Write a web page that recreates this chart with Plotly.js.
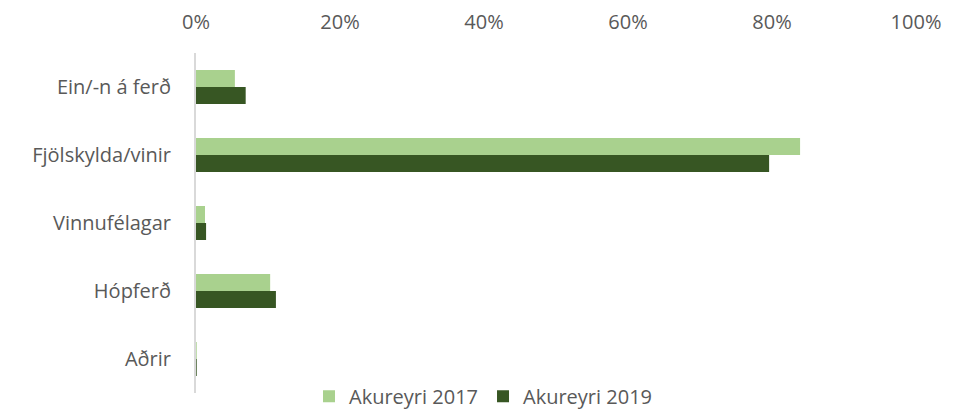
<!DOCTYPE html>
<html>
<head>
<meta charset="utf-8">
<script src="https://cdn.plot.ly/plotly-3.0.1.min.js"></script>
<style>html,body{margin:0;padding:0;background:#fff;}#chart{width:960px;height:411px;}</style>
</head>
<body>
<div id="chart"></div>
<script>
const categories = ["Ein/-n á ferð", "Fjölskylda/vinir", "Vinnufélagar", "Hópferð", "Aðrir"];
const series2017 = [5.4, 83.9, 1.25, 10.3, 0.1];
const series2019 = [6.9, 79.6, 1.4, 11.1, 0.1];
const seriesNames = ["Akureyri 2017", "Akureyri 2019"];
const tickVals = [0, 20, 40, 60, 80, 100];
const tickText = ["0%", "20%", "40%", "60%", "80%", "100%"];

const FONT = "'Open Sans', sans-serif";
const traces = [
  {type: "bar", orientation: "h", name: seriesNames[0], y: categories, x: series2017,
   marker: {color: "#a9d18e"}, hoverinfo: "x+name"},
  {type: "bar", orientation: "h", name: seriesNames[1], y: categories, x: series2019,
   marker: {color: "#375623"}, hoverinfo: "x+name"}
];
const layout = {
  width: 960, height: 411,
  margin: {l: 196, r: 44, t: 53, b: 18, autoexpand: false},
  paper_bgcolor: "#fff", plot_bgcolor: "#fff",
  font: {family: FONT, size: 20, color: "#595959"},
  barmode: "group", bargap: 0.5, bargroupgap: 0,
  xaxis: {side: "top", range: [0, 100], tickvals: tickVals, ticktext: tickText,
    showgrid: false, zeroline: false, showline: false, ticks: "", automargin: false,
    ticklabelstandoff: 19, tickfont: {size: 20, color: "#595959"}, fixedrange: true},
  yaxis: {type: "category", autorange: "reversed", showgrid: false, zeroline: false,
    showline: true, linecolor: "#d9d9d9", linewidth: 2, ticks: "", automargin: false,
    ticklabelstandoff: 19, tickfont: {size: 20, color: "#595959"}, fixedrange: true},
  legend: {orientation: "h", xref: "container", yref: "container", x: 309/960, xanchor: "left",
    y: 0.036, yanchor: "middle", font: {size: 20, color: "#595959"}, itemgap: 29,
    traceorder: "normal", bgcolor: "rgba(0,0,0,0)"},
  showlegend: true
};
Plotly.newPlot("chart", traces, layout, {displayModeBar: false, staticPlot: true});
</script>
</body>
</html>
